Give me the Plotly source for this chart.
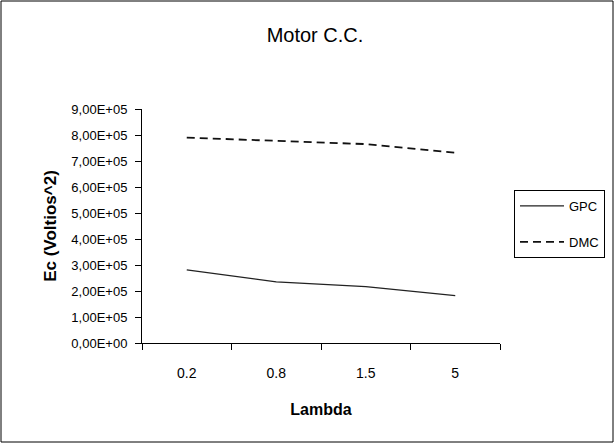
import plotly.graph_objects as go

lambdas = ["0.2", "0.8", "1.5", "5"]
gpc = [2.81e5, 2.35e5, 2.17e5, 1.82e5]
dmc = [7.90e5, 7.78e5, 7.65e5, 7.32e5]
y_tickvals = [i * 1e5 for i in range(10)]
y_ticktext = ["0,00E+00", "1,00E+05", "2,00E+05", "3,00E+05", "4,00E+05",
              "5,00E+05", "6,00E+05", "7,00E+05", "8,00E+05", "9,00E+05"]

FONT = "Arial, Liberation Sans, sans-serif"

fig = go.Figure()
fig.add_trace(go.Scatter(x=lambdas, y=gpc, mode="lines", name="GPC",
                         legendgroup="g1",
                         line=dict(color="#222222", width=1.3)))
fig.add_trace(go.Scatter(x=lambdas, y=dmc, mode="lines", name="DMC",
                         legendgroup="g2",
                         line=dict(color="#111111", width=1.8, dash="8px,5px")))

W, H = 615, 444
L, R, T, B = 142, 115, 109, 101

fig.update_layout(
    width=W, height=H,
    margin=dict(l=L, r=R, t=T, b=B, autoexpand=False),
    paper_bgcolor="white", plot_bgcolor="white",
    font=dict(family=FONT, size=12, color="black"),
    title=dict(text="Motor C.C.", xref="container", yref="container",
               x=315 / W, y=1 - 35 / H, xanchor="center", yanchor="middle",
               font=dict(family=FONT, size=20, color="black")),
    showlegend=True,
    legend=dict(x=(514 - L) / (W - L - R), y=(H - B - 190) / (H - T - B),
                xanchor="left", yanchor="top",
                bordercolor="black", borderwidth=1, bgcolor="white",
                font=dict(family=FONT, size=13, color="black"),
                itemwidth=44,
                traceorder="grouped", tracegroupgap=16),
    xaxis=dict(type="category", range=[-0.5, 3.5], showline=True,
               linecolor="black", linewidth=1,
               ticks="outside", ticklen=6, tickcolor="black", tickson="boundaries",
               showgrid=False, zeroline=False, ticklabelstandoff=17,
               tickfont=dict(family=FONT, size=14, color="black"),
               title=dict(text="<b>Lambda</b>", standoff=24,
                          font=dict(family=FONT, size=16, color="black"))),
    yaxis=dict(range=[0, 9e5], tickvals=y_tickvals, ticktext=y_ticktext,
               showline=True, linecolor="black", linewidth=1,
               ticks="outside", ticklen=6, tickcolor="black",
               showgrid=False, zeroline=False, ticklabelstandoff=5,
               tickfont=dict(family=FONT, size=13, color="black"),
               title=dict(text="<b>Ec (Voltios^2)</b>", standoff=10,
                          font=dict(family=FONT, size=17, color="black"))),
)

pw = W - L - R
ph = H - T - B
fig.add_shape(type="rect", xref="paper", yref="paper",
              x0=(1 - L) / pw, x1=(W - 2 - L) / pw,
              y0=-(B - 2) / ph, y1=(H - B - 1) / ph,
              line=dict(color="black", width=1), fillcolor="rgba(0,0,0,0)",
              layer="below")

fig.write_html("out.html", config={"displayModeBar": False},
               post_script="document.body.style.margin='0';document.body.style.padding='0';")
